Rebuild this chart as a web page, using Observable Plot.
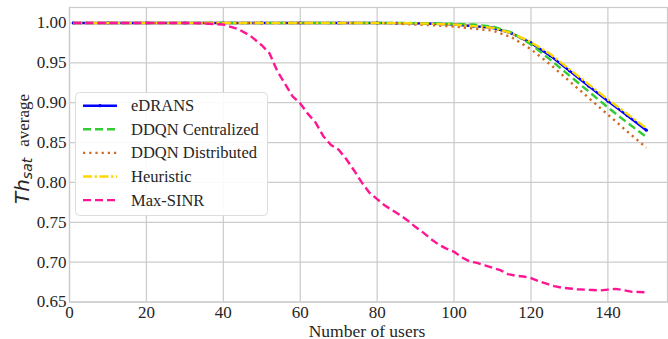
<!DOCTYPE html>
<html><head><meta charset="utf-8">
<script src="https://cdn.jsdelivr.net/npm/d3@7"></script>
<script src="https://cdn.jsdelivr.net/npm/@observablehq/plot@0.6"></script>
<style>
html,body{margin:0;padding:0;background:#fff}
#chart{width:668px;height:339px;overflow:hidden}
#chart svg text{font-family:"Liberation Serif","Times New Roman",serif;}
</style>
</head><body><div id="chart"></div>
<script>
// ---- data ----
const users = [1,10,20,30,40,50,60,70,80,85,90,95,100,105,110,115,120,125,130,135,140,145,150];
const eDRANS   = [1,1,1,1,1,1,1,1,1,0.9998,0.9995,0.999,0.998,0.996,0.994,0.987,0.975,0.959,0.940,0.921,0.902,0.884,0.8655];
const ddqnCent = [1,1,1,1,1,1,1,1,1,1,0.9998,0.9995,0.999,0.998,0.9955,0.988,0.973,0.954,0.934,0.914,0.894,0.875,0.857];
const ddqnDist = [1,1,1,1,1,1,1,1,0.9998,0.9995,0.998,0.997,0.9955,0.993,0.9905,0.982,0.967,0.948,0.927,0.906,0.885,0.864,0.8435];
const heuristic= [1,1,1,1,1,1,1,1,1,0.9998,0.9995,0.999,0.998,0.996,0.994,0.987,0.976,0.961,0.942,0.923,0.904,0.886,0.868];

const usersSinr = [1,10,20,30,35,40,44,47,50,52,54,56,58,60,62,64,66,68,70,72,74,76,78,80,82,84,86,88,90,92,94,96,98,100,102,104,106,108,110,112,114,116,118,120,122,124,126,128,130,132,134,136,138,140,142,144,146,148,150];
const maxSinr   = [1,1,1,1,0.9995,0.998,0.992,0.984,0.972,0.962,0.94,0.924,0.908,0.899,0.886,0.875,0.858,0.847,0.841,0.829,0.815,0.800,0.787,0.779,0.771,0.765,0.759,0.752,0.744,0.737,0.729,0.722,0.717,0.713,0.706,0.701,0.699,0.696,0.693,0.690,0.685,0.683,0.682,0.680,0.676,0.673,0.670,0.668,0.667,0.666,0.6655,0.665,0.6645,0.6655,0.6665,0.665,0.663,0.6625,0.6622];

const seriesNames = ["eDRANS","DDQN Centralized","DDQN Distributed","Heuristic","Max-SINR"];
const seriesColors = ["#0000ff","#33cc33","#d2691e","#ffd700","#ff1493"];
const seriesDash = [null,"8,4","2.2,4","9,2.5,2.5,2.5","8,4"];
const xTicks = [0,20,40,60,80,100,120,140];
const yTicks = [0.65,0.70,0.75,0.80,0.85,0.90,0.95,1.00];
const xLabel = "Number of users";

// ---- build tables ----
const seriesY = [eDRANS, ddqnCent, ddqnDist, heuristic];
const tables = seriesY.map((ys,i)=>users.map((u,j)=>({x:u,y:ys[j],s:seriesNames[i]})));
tables.push(usersSinr.map((u,j)=>({x:u,y:maxSinr[j],s:seriesNames[4]})));

const serif = "'Liberation Serif','Times New Roman',serif";
const lineMarks = tables.map((t,i)=>Plot.line(t,{x:"x",y:"y",stroke:seriesColors[i],
  strokeWidth:2.4, strokeDasharray:seriesDash[i]||undefined, strokeLinecap:"butt"}));

const chart = Plot.plot({
  width:668, height:339,
  marginLeft:69, marginRight:1, marginTop:7, marginBottom:37.5,
  style:"font-family:'Liberation Serif','Times New Roman',serif;font-size:17px;color:#262626;background:white;overflow:visible;",
  x:{domain:[0,155.5]},
  y:{domain:[0.65,1.0194]},
  marks:[
    Plot.gridX(xTicks,{stroke:"#cccccc",strokeOpacity:1,strokeWidth:1.25}),
    Plot.gridY(yTicks,{stroke:"#cccccc",strokeOpacity:1,strokeWidth:1.25}),
    Plot.frame({stroke:"#cccccc",strokeWidth:1.25}),
    Plot.axisX(xTicks,{tickSize:0,tickPadding:4,label:null,fontSize:17}),
    Plot.axisY(yTicks,{tickSize:0,tickPadding:3,label:null,fontSize:17,tickFormat:d=>d.toFixed(2)}),
    lineMarks[0],
    Plot.dot(tables[0],{x:"x",y:"y",r:1.6,fill:seriesColors[0],stroke:null}),
    lineMarks[1], lineMarks[2], lineMarks[3], lineMarks[4]
  ]
});
document.getElementById("chart").appendChild(chart);

// ---- labels and legend ----
const svg = d3.select(chart);
svg.append("text").attr("x",367).attr("y",336.5).attr("text-anchor","middle")
  .style("font-family",serif).style("font-size","17.5px").attr("fill","#262626").text(xLabel);

const yl = svg.append("text").attr("transform","translate(29,149) rotate(-90)")
  .attr("text-anchor","middle").attr("fill","#262626");
yl.append("tspan").style("font-family","'DejaVu Sans',sans-serif").style("font-style","italic").style("font-size","20px").text("Th");
yl.append("tspan").style("font-family","'DejaVu Sans',sans-serif").style("font-style","italic").style("font-size","14px").attr("dy",3).text("sat");
yl.append("tspan").style("font-family",serif).style("font-size","17px").attr("dy",-3).attr("dx",11).text("average");

const lg = svg.append("g");
lg.append("rect").attr("x",75.5).attr("y",92.5).attr("width",192).attr("height",123).attr("rx",4)
  .attr("fill","white").attr("fill-opacity",0.9).attr("stroke","#dddddd").attr("stroke-width",1);
seriesNames.forEach((name,i)=>{
  const cy = 105.7 + i*23.6;
  lg.append("line").attr("x1",83).attr("x2",117).attr("y1",cy).attr("y2",cy)
    .attr("stroke",seriesColors[i]).attr("stroke-width",2.4)
    .attr("stroke-dasharray",seriesDash[i]||null);
  if(i===0) lg.append("circle").attr("cx",100).attr("cy",cy).attr("r",1.6).attr("fill",seriesColors[0]);
  lg.append("text").attr("x",131).attr("y",cy+5.5).attr("text-anchor","start")
    .style("font-family",serif).style("font-size","16.5px")
    .attr("fill","#262626").text(name);
});
</script>
</body></html>
